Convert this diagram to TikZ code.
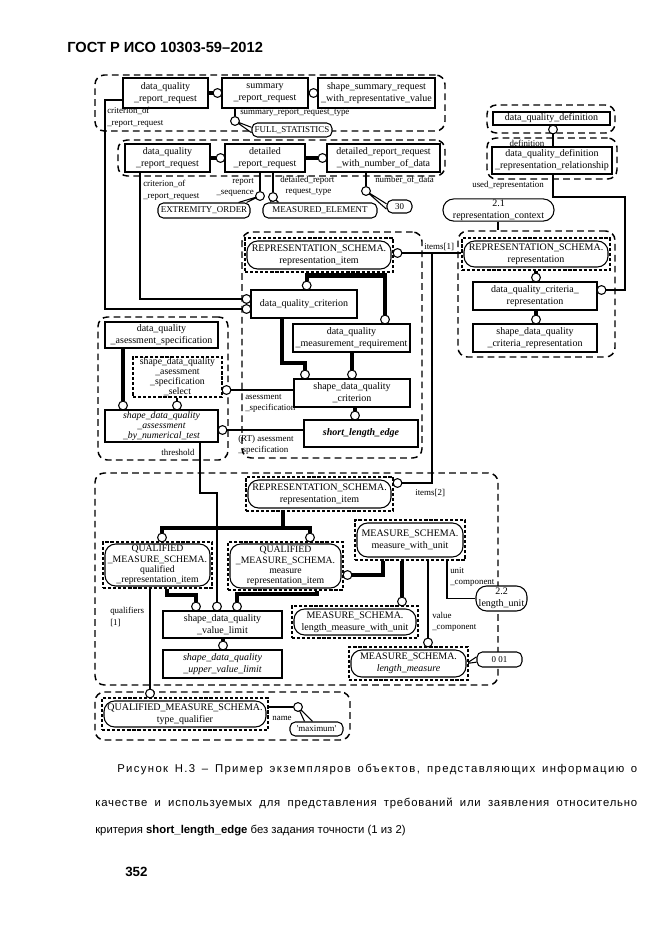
\documentclass[tikz,border=0pt]{standalone}
\usepackage{fontspec}
\setmainfont{Liberation Serif}
\newfontfamily\capfont{Liberation Sans}
\newfontfamily\capfontA[LetterSpace=12]{Liberation Sans}
\newfontfamily\capfontB[LetterSpace=7]{Liberation Sans}
\usetikzlibrary{calc}
\pgfdeclarelayer{bg}
\pgfsetlayers{bg,main}
\newcommand\mainsz{\fontsize{7.5}{9}\selectfont}
\newcommand\tightsz{\fontsize{7.3}{7.6}\selectfont}
\newcommand\lblsz{\fontsize{6.7}{8.6}\selectfont}
\newcommand\capsz{\fontsize{8.5}{10}\selectfont}
\newcommand\Bx[7][]{\node[#1,minimum width={(#5-#3)*0.75pt},minimum height={(#6-#4)*0.75pt}] (#2) at ({(#3+#5)/2},{(#4+#6)/2}) {#7};}
\tikzset{
  grp/.style={draw, dash pattern=on 5pt off 3.2pt, line width=1.1pt, rounded corners=7pt, inner sep=0pt},
  dsh/.style={draw, dash pattern=on 2.4pt off 1.4pt, line width=0.9pt, fill=white, align=center, inner sep=0.5pt, font=\tightsz},
  box/.style={draw, line width=1.1pt, fill=white, align=center, inner sep=1pt, font=\mainsz},
  ovl/.style={draw, line width=0.8pt, rounded corners=8pt, fill=white, align=center, inner sep=0.5pt, font=\mainsz},
  lit/.style={draw, line width=0.8pt, rounded corners=4pt, fill=white, align=center, inner sep=0.5pt, font=\lblsz},
  circ/.style={circle, draw, fill=white, line width=0.8pt, minimum size=6.6pt, inner sep=0pt},
  thk/.style={line width=3.1pt},
  thn/.style={line width=0.8pt},
  lbl/.style={font=\lblsz, inner sep=0pt, align=left},
}
\begin{document}
\begin{tikzpicture}[x=0.75pt,y=-0.75pt]
\useasboundingbox (0,0) rectangle (661,935);
% groups
\Bx[grp]{g1}{95}{75}{445}{131}{}
\Bx[grp]{g2}{118}{140}{445}{176}{}
\Bx[grp]{g3}{487}{105}{615}{133}{}
\Bx[grp]{g4}{487}{138}{617}{179}{}
\Bx[grp]{g5}{458}{231}{615}{357}{}
\Bx[grp]{g6}{242}{232}{422}{458}{}
\Bx[grp]{g7}{98}{317}{228}{460}{}
\Bx[grp]{g8}{95}{473}{498}{685}{}
\Bx[grp]{g9}{95}{692}{350}{740}{}
% boxes
\Bx[box]{dqrr1}{123}{78}{208}{108}{data\_quality\\\_report\_request}
\Bx[box]{srr}{222}{78}{308}{108}{summary\\\_report\_request}
\Bx[box]{ssr}{318}{78}{435}{108}{shape\_summary\_request\\\_with\_representative\_value}
\Bx[box]{dqrr2}{125}{144}{210}{172}{data\_quality\\\_report\_request}
\Bx[box]{drr}{225}{144}{305}{172}{detailed\\\_report\_request}
\Bx[box]{drrn}{327}{144}{440}{172}{detailed\_report\_request\\\_with\_number\_of\_data}
\Bx[box]{dqd}{493}{112}{610}{125}{data\_quality\_definition}
\Bx[box]{dqdrr}{492}{147}{612}{174}{data\_quality\_definition\\\_representation\_relationship}
\Bx[ovl]{rc}{443}{199}{554}{221}{2.1\\representation\_context}
\Bx[dsh]{d2}{462}{238}{610}{270}{}
\Bx[ovl]{o2}{464}{241}{608}{267}{REPRESENTATION\_SCHEMA.\\representation}
\Bx[box]{dqcr}{473}{282}{597}{310}{data\_quality\_criteria\_\\representation}
\Bx[box]{sdqcr}{473}{324}{597}{352}{shape\_data\_quality\\\_criteria\_representation}
\Bx[dsh]{d1}{245}{238}{393}{272}{}
\Bx[ovl]{o1}{247}{241}{391}{269}{REPRESENTATION\_SCHEMA.\\representation\_item}
\Bx[box]{dqc}{251}{290}{357}{318}{data\_quality\_criterion}
\Bx[box]{dqmr}{293}{324}{410}{352}{data\_quality\\\_measurement\_requirement}
\Bx[box]{sdqc}{294}{379}{410}{407}{shape\_data\_quality\\\_criterion}
\Bx[box,font=\mainsz\bfseries\itshape]{sle}{304}{420}{418}{447}{short\_length\_edge}
\Bx[box]{dqas}{105}{322}{218}{348}{data\_quality\\\_asessment\_specification}
\Bx[dsh]{d4}{133}{357}{222}{397}{shape\_data\_quality\\\_asessment\\\_specification\\\_select}
\Bx[box,font=\tightsz\itshape]{sdqan}{105}{410}{218}{442}{shape\_data\_quality\\\_assessment\\\_by\_numerical\_test}
\Bx[dsh]{d5}{246}{477}{393}{511}{}
\Bx[ovl]{o5}{248}{480}{391}{508}{REPRESENTATION\_SCHEMA.\\representation\_item}
\Bx[dsh]{d6}{103}{542}{212}{588}{}
\Bx[ovl,font=\tightsz]{o6}{105}{544}{210}{586}{QUALIFIED\\\_MEASURE\_SCHEMA.\\qualified\\\_representation\_item}
\Bx[dsh]{d7}{228}{542}{343}{590}{}
\Bx[ovl,font=\tightsz]{o7}{230}{544}{341}{588}{QUALIFIED\\\_MEASURE\_SCHEMA.\\measure\\representation\_item}
\Bx[dsh]{d8}{355}{520}{465}{560}{}
\Bx[ovl]{o8}{357}{523}{463}{557}{MEASURE\_SCHEMA.\\measure\_with\_unit}
\Bx[dsh]{d9}{292}{606}{418}{638}{}
\Bx[ovl]{o9}{294}{609}{416}{635}{MEASURE\_SCHEMA.\\length\_measure\_with\_unit}
\Bx[dsh]{d10}{349}{647}{468}{680}{}
\Bx[ovl]{o10}{351}{650}{466}{677}{MEASURE\_SCHEMA.\\\textit{length\_measure}}
\Bx[ovl]{lu}{476}{586}{527}{611}{2.2\\length\_unit}
\Bx[lit]{v001}{477}{652}{522}{667}{0 01}
\Bx[box]{sdqvl}{163}{611}{282}{638}{shape\_data\_quality\\\_value\_limit}
\Bx[box,font=\mainsz\itshape]{sduvl}{163}{650}{282}{678}{shape\_data\_quality\\\_upper\_value\_limit}
\Bx[dsh]{d11}{102}{698}{268}{730}{}
\Bx[ovl]{o11}{104}{701}{266}{727}{QUALIFIED\_MEASURE\_SCHEMA.\\type\_qualifier}
\Bx[lit]{mx}{290}{722}{343}{736}{\textquotesingle maximum\textquotesingle}
\Bx[lit]{fs}{252}{123}{332}{137}{FULL\_STATISTICS}
\Bx[lit]{eo}{158}{203}{250}{218}{EXTREMITY\_ORDER}
\Bx[lit]{me}{263}{203}{377}{218}{MEASURED\_ELEMENT}
\Bx[lit]{n30}{387}{200}{412}{213}{30}
% circles
\node[circ] (c1) at (217.5,93) {};
\node[circ] (c2) at (313.5,93) {};
\node[circ] (c3) at (235,121) {};
\node[circ] (c4) at (220.5,158) {};
\node[circ] (c5) at (322.5,158) {};
\node[circ] (c6) at (366,191) {};
\node[circ] (c7) at (260,196) {};
\node[circ] (c8) at (273,197) {};
\node[circ] (c9) at (553,129.5) {};
\node[circ] (c10) at (601.5,290) {};
\node[circ] (c11) at (397.5,253) {};
\node[circ] (c12) at (397.5,483) {};
\node[circ] (c13) at (306.7,285.5) {};
\node[circ] (c14) at (385,319.5) {};
\node[circ] (c15) at (246.5,299) {};
\node[circ] (c16) at (246.5,309) {};
\node[circ] (c17) at (305,374.5) {};
\node[circ] (c18) at (352,374.5) {};
\node[circ] (c19) at (355,415.5) {};
\node[circ] (c20) at (123,405.5) {};
\node[circ] (c21) at (177,405.5) {};
\node[circ] (c22) at (226.5,390) {};
\node[circ] (c23) at (222.5,430) {};
\node[circ] (c24) at (217,606.5) {};
\node[circ] (c25) at (162,537.5) {};
\node[circ] (c26) at (310,537.5) {};
\node[circ] (c27) at (347.5,575) {};
\node[circ] (c28) at (402,601.5) {};
\node[circ] (c29) at (428,642.5) {};
\node[circ] (c30) at (196,606.5) {};
\node[circ] (c31) at (237,606.5) {};
\node[circ] (c32) at (223,645.5) {};
\node[circ] (c33) at (150,693.5) {};
\node[circ] (c34) at (298,707) {};
\node[circ] (c35) at (536,319.5) {};
\node[circ] (c36) at (536,277.5) {};
\coordinate (j1) at (432,253);
\coordinate (j2) at (320,275.5);
\coordinate (j3) at (283,528);
% callout tails
\begin{pgfonlayer}{bg}
\draw[thn] ([yshift=2pt]fs.west) -- (c3.center) -- ([yshift=-2pt]fs.west);
\draw[thn] ([yshift=2pt]n30.west) -- (c6.center) -- ([yshift=-2pt]n30.west);
\draw[thn] ([xshift=-9pt]eo.north east) -- (c7.center) -- ([xshift=-3pt]eo.north east);
\draw[thn] ([xshift=6pt]me.north west) -- (c8.center) -- ([xshift=12pt]me.north west);
\draw[thn] ([xshift=-9pt]mx.north) -- (c34.center) -- ([xshift=-3pt]mx.north);
\draw[thn] ([yshift=2pt]v001.west) -- (o10.east) -- ([yshift=-2pt]v001.west);
\end{pgfonlayer}
% connectors
\draw[thk] (dqrr1.east) -- (c1);
\draw[thk] (srr.east) -- (c2);
\draw[thn] (srr.south -| c3) -- (c3);
\draw[thk] (dqrr2.east) -- (c4);
\draw[thk] (drr.east) -- (c5);
\draw[thn] (drrn.south -| c6) -- (c6);
\draw[thn] (drr.south -| c7) -- (c7);
\draw[thn] (drr.south -| c8) -- (c8);
\draw[thn] (dqrr1.west |- 0,100) -- (105,100) |- (c16);
\draw[thn] (dqrr2.south -| 140,0) |- (c15);
\draw[thn] (c9) -- (dqdrr.north -| c9);
\draw[thn] (dqdrr.south -| c9) |- (625,197) |- (c10);
\draw[thn] (rc.south -| 498,0) -- (g5.north -| 498,0);
\draw[thk] (d2.south -| c36) -- (c36);
\draw[thk] (dqcr.south -| c35) -- (c35);
\draw[thn] (c11) -- (d2.west |- c11);
\draw[thn] (j1) |- (c12);
\draw[thk] (d1.south -| j2) -- (j2);
\draw[thk] (c13) |- (j2) -| (c14);
\draw[thk] (dqc.south -| 282,0) |- (305,363) -- (c17);
\draw[thk] (dqmr.south -| c18) -- (c18);
\draw[thk] (sdqc.south -| c19) -- (c19);
\draw[thk] (dqas.south -| c20) -- (c20);
\draw[thn] (d4.south -| c21) -- (c21);
\draw[thn] (c22) -- (sdqc.west |- c22);
\draw[thn] (c23) -- (sle.west |- c23);
\draw[thn] (sdqan.south -| 200,0) |- (217,493) -- (c24);
\draw[thk] (d5.south -| j3) -- (j3);
\draw[thk] (c25) |- (j3) -| (c26);
\draw[thk] (c27) -| (d8.south -| 383,0);
\draw[thk] (d8.south -| c28) -- (c28);
\draw[thn] (d8.south -| c29) -- (c29);
\draw[thn] (d8.south -| 447,0) |- (lu);
\draw[thk] (d6.south -| 167,0) |- (c30 |- 0,595) -- (c30);
\draw[thk] (d7.south -| 317,0) |- (c31 |- 0,594) -- (c31);
\draw[thk] (sdqvl.south -| c32) -- (c32);
\draw[thn] (d6.south -| c33) -- (c33);
\draw[thn] (d11.east |- c34) -- (c34);
% labels
\node[lbl, anchor=west] (l1) at (240,113) {summary\_report\_request\_type};
\node[lbl, anchor=north west] (l2) at (107,107) {criterion\_of\\\_report\_request};
\node[lbl, anchor=north west] (l3) at (143,180) {criterion\_of\\\_report\_request};
\node[lbl, anchor=north east, align=right] (l4) at (254,178) {report\\\_sequence};
\node[lbl, anchor=north west] (l5) at (280,176) {detailed\_report\\\hspace*{4pt}request\_type};
\node[lbl, anchor=west] (l6) at (375,180) {number\_of\_data};
\node[lbl] (l7) at (527,143) {definition};
\node[lbl] (l8) at (508,185) {used\_representation};
\node[lbl, anchor=west] (l9) at (424,247) {items[1]};
\node[lbl, anchor=north west] (l10) at (245,394) {asessment\\\_specification};
\node[lbl, anchor=north west] (l11) at (238,435) {(RT) asessment\\\_specification};
\node[lbl] (l12) at (178,452) {threshold};
\node[lbl, anchor=west] (l13) at (415,493) {items[2]};
\node[lbl, anchor=north west] (l14) at (450,567) {unit\\\_component};
\node[lbl, anchor=north west] (l15) at (432,612) {value\\\_component};
\node[lbl, anchor=north west] (l16) at (110,607) {qualifiers\\{[1]}};
\node[lbl] (l17) at (282,718) {name};
% header and caption
\node[font=\capfont\bfseries\fontsize{11}{13}\selectfont, anchor=west, inner sep=0pt] (hdr) at (67,47) {ГОСТ Р ИСО 10303-59–2012};
\node[font=\capfontA\capsz, anchor=west, inner sep=0pt] (cap1) at (117,770) {\makebox[390pt][s]{Рисунок Н.3 – Пример экземпляров объектов, представляющих информацию о}};
\node[font=\capfontB\capsz, anchor=west, inner sep=0pt] (cap2) at (95,803) {\makebox[406.5pt][s]{качестве и используемых для представления требований или заявления относительно}};
\node[font=\capfont\capsz, anchor=west, inner sep=0pt] (cap3) at (95,831) {критерия \textbf{short\_length\_edge} без задания точности (1 из 2)};
\node[font=\capfont\bfseries\fontsize{10}{12}\selectfont, anchor=west, inner sep=0pt] (pg) at (125,872) {352};
\end{tikzpicture}
\end{document}
